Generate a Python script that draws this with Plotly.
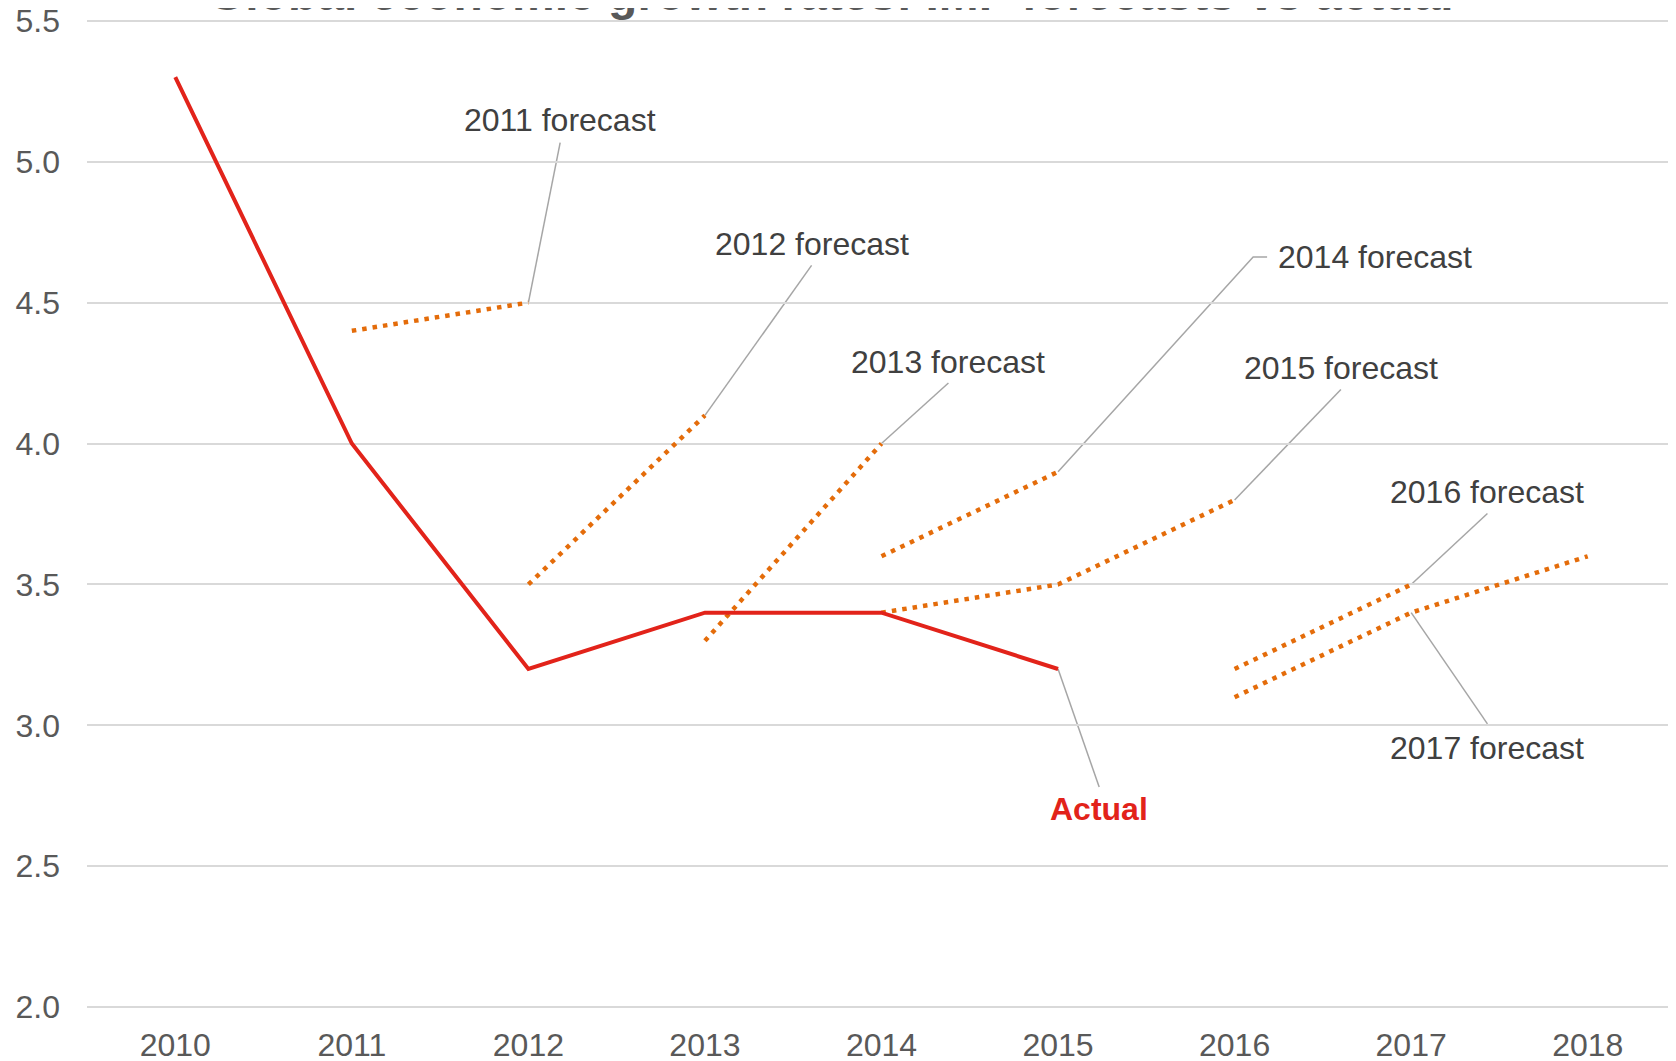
import plotly.graph_objects as go

# datos
anios = [2010, 2011, 2012, 2013, 2014, 2015, 2016, 2017, 2018]
actual_anios = [2010, 2011, 2012, 2013, 2014, 2015]
actual = [5.3, 4.0, 3.2, 3.4, 3.4, 3.2]

f2011_anios = [2011, 2012]
f2011 = [4.4, 4.5]
f2012_anios = [2012, 2013]
f2012 = [3.5, 4.1]
f2013_anios = [2013, 2014]
f2013 = [3.3, 4.0]
f2014_anios = [2014, 2015]
f2014 = [3.6, 3.9]
f2015_anios = [2014, 2015, 2016]
f2015 = [3.4, 3.5, 3.8]
f2016_anios = [2016, 2017]
f2016 = [3.2, 3.5]
f2017_anios = [2016, 2017, 2018]
f2017 = [3.1, 3.4, 3.6]

y_ticks = [2.0, 2.5, 3.0, 3.5, 4.0, 4.5, 5.0, 5.5]

ROJO = '#E2231A'
NARANJA = '#E46C0A'
GRIS_GUIA = '#A6A6A6'
GRIS_TEXTO = '#595959'
TEXTO = '#404040'
FUENTE = 'Liberation Sans, Arial, sans-serif'

fig = go.Figure()

pronosticos = [
    ('2011 forecast', f2011_anios, f2011),
    ('2012 forecast', f2012_anios, f2012),
    ('2013 forecast', f2013_anios, f2013),
    ('2014 forecast', f2014_anios, f2014),
    ('2015 forecast', f2015_anios, f2015),
    ('2016 forecast', f2016_anios, f2016),
    ('2017 forecast', f2017_anios, f2017),
]
for nombre, xs, ys in pronosticos:
    fig.add_trace(go.Scatter(x=xs, y=ys, mode='lines', name=nombre,
                             line=dict(color=NARANJA, width=4.5, dash='4.5px,6px'),
                             showlegend=False, hoverinfo='skip'))

fig.add_trace(go.Scatter(x=actual_anios, y=actual, mode='lines', name='Actual',
                         line=dict(color=ROJO, width=4), showlegend=False))

# etiquetas con lineas guia: (texto, punto de anclaje, recorrido de la guia, posicion etiqueta, xanchor)
etiquetas = [
    ('2011 forecast', (f2011_anios[1], f2011[1]), [(2012.18, 5.068)], (2012.18, 5.147), 'center'),
    ('2012 forecast', (f2012_anios[1], f2012[1]), [(2013.604, 4.632)], (2013.604, 4.708), 'center'),
    ('2013 forecast', (f2013_anios[1], f2013[1]), [(2014.379, 4.215)], (2014.379, 4.290), 'center'),
    ('2014 forecast', (f2014_anios[1], f2014[1]), [(2016.105, 4.662), (2016.184, 4.662)], (2016.233, 4.662), 'left'),
    ('2015 forecast', (f2015_anios[2], f2015[2]), [(2016.602, 4.192)], (2016.602, 4.268), 'center'),
    ('2016 forecast', (f2016_anios[1], f2016[1]), [(2017.432, 3.752)], (2017.432, 3.828), 'center'),
    ('2017 forecast', (f2017_anios[1], f2017[1]), [(2017.432, 3.005)], (2017.432, 2.921), 'center'),
]
for texto, (px, py), guia, (lx, ly), xa in etiquetas:
    camino = f'M {px},{py} ' + ' '.join(f'L {gx},{gy}' for gx, gy in guia)
    fig.add_shape(type='path', path=camino, xref='x', yref='y',
                  line=dict(color=GRIS_GUIA, width=1.5), layer='below')
    fig.add_annotation(x=lx, y=ly, text=texto, showarrow=False, xanchor=xa, yanchor='middle',
                       font=dict(family=FUENTE, size=32, color=TEXTO))

# etiqueta de la serie real
fig.add_shape(type='line', x0=actual_anios[-1], y0=actual[-1], x1=2015.233, y1=2.781,
              xref='x', yref='y', line=dict(color=GRIS_GUIA, width=1.5), layer='below')
fig.add_annotation(x=2015.233, y=2.702, text='<b>Actual</b>', showarrow=False,
                   font=dict(family=FUENTE, size=32, color=ROJO))

# titulo recortado por el borde superior
fig.add_annotation(x=0.468, y=1, xref='paper', yref='paper', xanchor='center', yanchor='bottom',
                   yshift=-4, showarrow=False,
                   text='<b>Global economic growth rates: IMF forecasts vs actual</b>',
                   font=dict(family=FUENTE, size=48, color=GRIS_TEXTO))

fig.update_layout(
    width=1668, height=1053,
    margin=dict(l=79, r=0, t=10, b=51, autoexpand=False),
    plot_bgcolor='white', paper_bgcolor='white',
    font=dict(family=FUENTE, color=GRIS_TEXTO),
)
fig.update_xaxes(range=[2009.5, 2018.5], tickvals=anios, ticktext=[str(a) for a in anios],
                 showgrid=False, zeroline=False, showline=False, automargin=False,
                 tickfont=dict(size=32, color=GRIS_TEXTO), ticklabelstandoff=13,
                 ticklabeloverflow='allow')
fig.update_yaxes(range=[1.99, 5.51], tickvals=y_ticks, ticktext=[f'{v:.1f}' for v in y_ticks],
                 showgrid=True, gridcolor='#D9D9D9', gridwidth=1.5, zeroline=False, showline=False,
                 automargin=False, ticklabeloverflow='allow',
                 tickfont=dict(size=32, color=GRIS_TEXTO), ticklabelstandoff=26)

fig.write_html("out.html")
